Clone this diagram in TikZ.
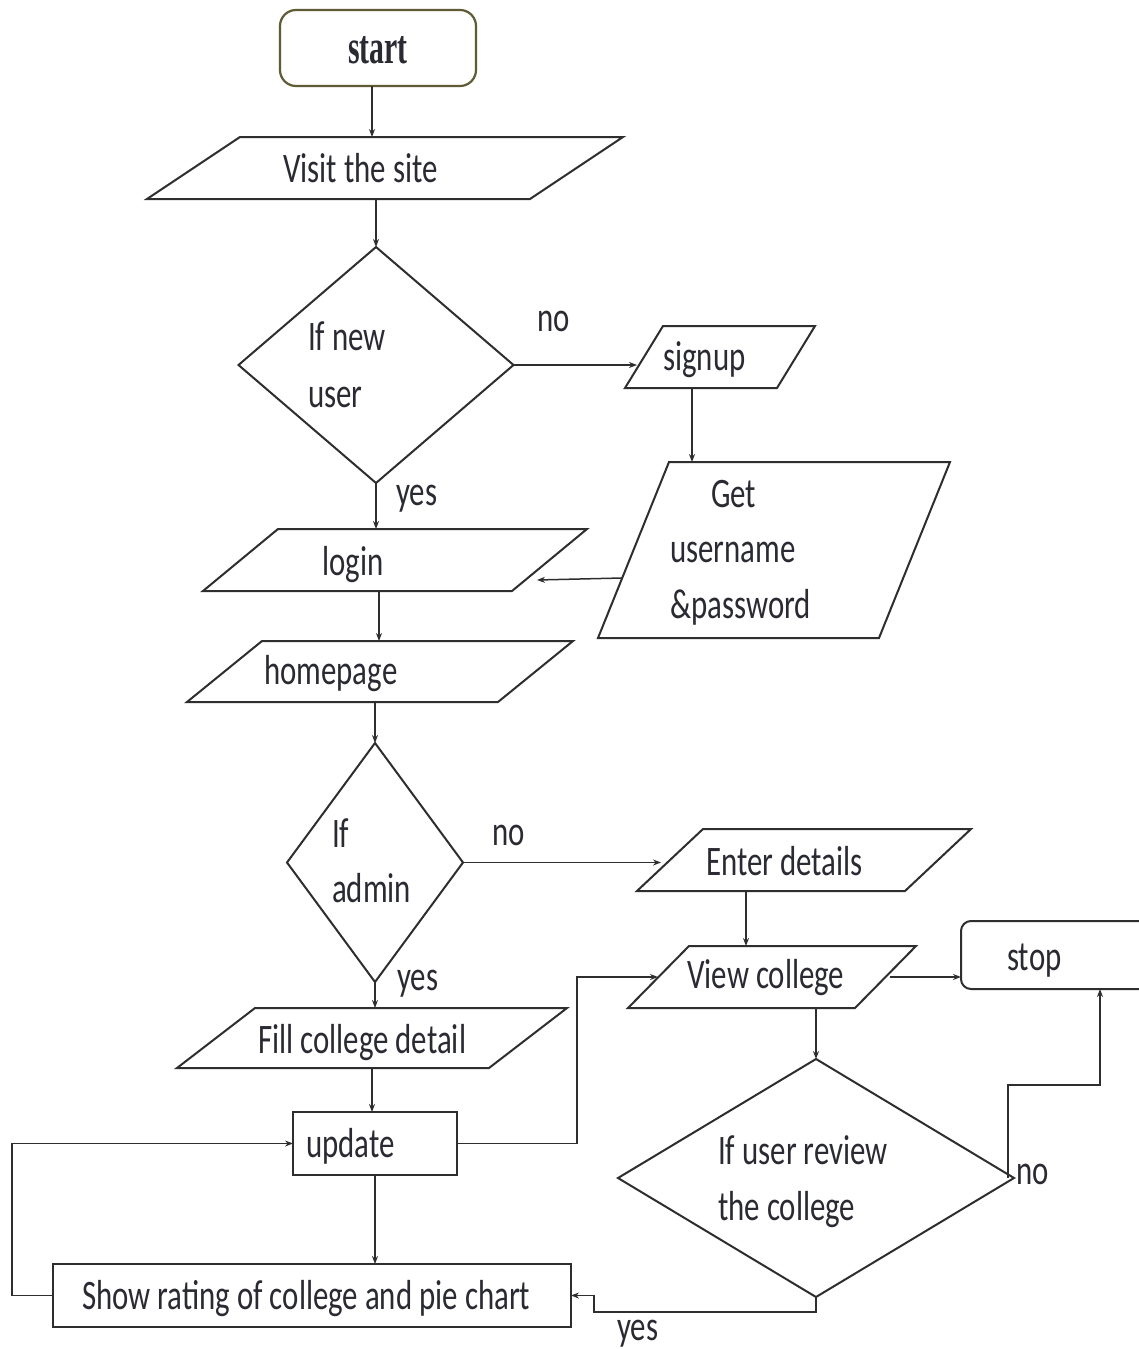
\documentclass[tikz,border=0pt]{standalone}
\usepackage{fontspec}
\setmainfont[FakeStretch=0.735]{Carlito}
\newfontfamily\startfont[FakeStretch=0.62]{Liberation Serif}
\usetikzlibrary{shapes.geometric,arrows.meta,calc}
\definecolor{ln}{HTML}{2E2E2E}
\definecolor{tx}{HTML}{2A2A33}
\definecolor{olivebd}{HTML}{5E5B36}
\begin{document}
\begin{tikzpicture}[x=1pt,y=-1pt,
  shp/.style={draw=ln, line width=2pt, outer sep=0pt, inner sep=0pt},
  iobox/.style={outer sep=0pt, inner sep=0pt},
  arr/.style={draw=ln, line width=1.5pt, -{Stealth[length=8pt,width=6pt]}},
  txt/.style={inner sep=0pt, anchor=base west, text=tx, font=\fontsize{42}{50}\selectfont}]
\useasboundingbox[fill=white] (0,0) rectangle (1138,1349);

% column coordinates
\coordinate (c372) at (372,0);
\coordinate (c379) at (379,0);
\coordinate (c692) at (692,0);
\coordinate (c746) at (746,0);

% terminals
\node[draw=olivebd, line width=2.2pt, rounded corners=16pt, minimum width=196, minimum height=76, outer sep=0pt] (start) at (378,48) {};
\node[draw=ln, line width=2pt, rounded corners=10pt, minimum width=278, minimum height=68, outer sep=0pt] (stop) at (1100,955) {};

% input/output boxes (parallelograms)
\node[iobox, minimum width=476, minimum height=62] (visit) at (385,168) {};
\node[iobox, minimum width=190, minimum height=62] (signup) at (720,357) {};
\node[iobox, minimum width=352, minimum height=176] (get) at (774,550) {};
\node[iobox, minimum width=384, minimum height=62] (login) at (395,560) {};
\node[iobox, minimum width=386, minimum height=61] (home) at (380,671.5) {};
\node[iobox, minimum width=334, minimum height=62] (enter) at (804,860) {};
\node[iobox, minimum width=288, minimum height=62] (view) at (772,977) {};
\node[iobox, minimum width=390, minimum height=60] (fill) at (372,1038) {};
\foreach \n/\o in {visit/93, signup/38, get/71, login/75, home/75, enter/66, view/61, fill/78}
  \draw[shp] ([xshift=\o pt]\n.north west) -- (\n.north east) -- ([xshift=-\o pt]\n.south east) -- (\n.south west) -- cycle;

% decisions
\node[shp, diamond, minimum width=275, minimum height=236] (d1) at (376,365) {};
\node[shp, diamond, minimum width=176, minimum height=239] (d2) at (375,862.5) {};
\node[shp, diamond, minimum width=396, minimum height=238] (rev) at (816,1178) {};

% process boxes
\node[shp, minimum width=164, minimum height=63] (upd) at (375,1143.5) {};
\node[shp, minimum width=518, minimum height=63] (show) at (312,1295.5) {};

% texts
\node[inner sep=0pt, anchor=base west, text=tx, font=\startfont\bfseries\fontsize{48}{50}\selectfont] (t-start) at (348,63) {start};
\node[txt] (t-visit) at (283,182) {Visit the site};
\node[txt] (t-d1a) at (308,350) {If new};
\node[txt] (t-d1b) at (308,407) {user};
\node[txt] (t-no1) at (537,331) {no};
\node[txt] (t-signup) at (663,370) {signup};
\node[txt] (t-get1) at (711,507) {Get};
\node[txt] (t-get2) at (670,562) {username};
\node[txt] (t-get3) at (670,618) {\&password};
\node[txt] (t-yes1) at (396,505) {yes};
\node[txt] (t-login) at (322,575) {login};
\node[txt] (t-home) at (264,684) {homepage};
\node[txt] (t-d2a) at (332,847) {If};
\node[txt] (t-d2b) at (332,902) {admin};
\node[txt] (t-no2) at (492,845) {no};
\node[txt] (t-enter) at (706,875) {Enter details};
\node[txt] (t-view) at (687,988) {View college};
\node[txt] (t-stop) at (1007,970) {stop};
\node[txt] (t-yes2) at (397,990) {yes};
\node[txt] (t-fill) at (258,1053) {Fill college detail};
\node[txt] (t-upd) at (306,1157) {update};
\node[txt] (t-show) at (82,1309) {Show rating of college and pie chart};
\node[txt] (t-rev1) at (718,1164) {If user review};
\node[txt] (t-rev2) at (718,1220) {the college};
\node[txt] (t-no3) at (1016,1184) {no};
\node[txt] (t-yes3) at (617,1340) {yes};

% connector end points on slanted sides
\coordinate (getl) at ($(get.south west)+(24,-60)$);
\coordinate (logr) at ($(login.south east)+(-50,-11)$);
\coordinate (revno) at ($(rev.east)+(-6,0)$);

% connectors
\draw[arr] (start.south -| c372) -- (visit.north -| c372);
\draw[arr] (visit.south -| d1.north) -- (d1.north);
\draw[arr, shorten >=-12pt] (d1.east) -- (d1.east -| signup.west);
\draw[arr] (signup.south -| c692) -- (get.north -| c692);
\draw[arr] (getl) -- (logr);
\draw[arr] (d1.south) -- (d1.south |- login.north);
\draw[arr] (login.south -| c379) -- (home.north -| c379);
\draw[arr] (home.south -| d2.north) -- (d2.north);
\draw[arr, shorten >=-24pt] (d2.east) -- (d2.east -| enter.west);
\draw[arr] (enter.south -| c746) -- (view.north -| c746);
\draw[arr] ($(view.east)+(-26,0)$) -- (view.east -| stop.west);
\draw[arr] (view.south -| rev.north) -- (rev.north);
\draw[arr] (d2.south) -- (d2.south |- fill.north);
\draw[arr] (fill.south -| c372) -- (upd.north -| c372);
\draw[arr] (upd.east) -- ++(120,0) |- ($(view.west)+(30,0)$);
\draw[arr] (upd.south) -- (upd.south |- show.north);
\draw[arr] (show.west) -- ++(-41,0) |- (upd.west);
\draw[arr] (rev.south) -- ++(0,15) -- ++(-222,0) |- (show.east);
\draw[arr] (revno) -- ++(0,-93) -| (stop.south);
\end{tikzpicture}
\end{document}
